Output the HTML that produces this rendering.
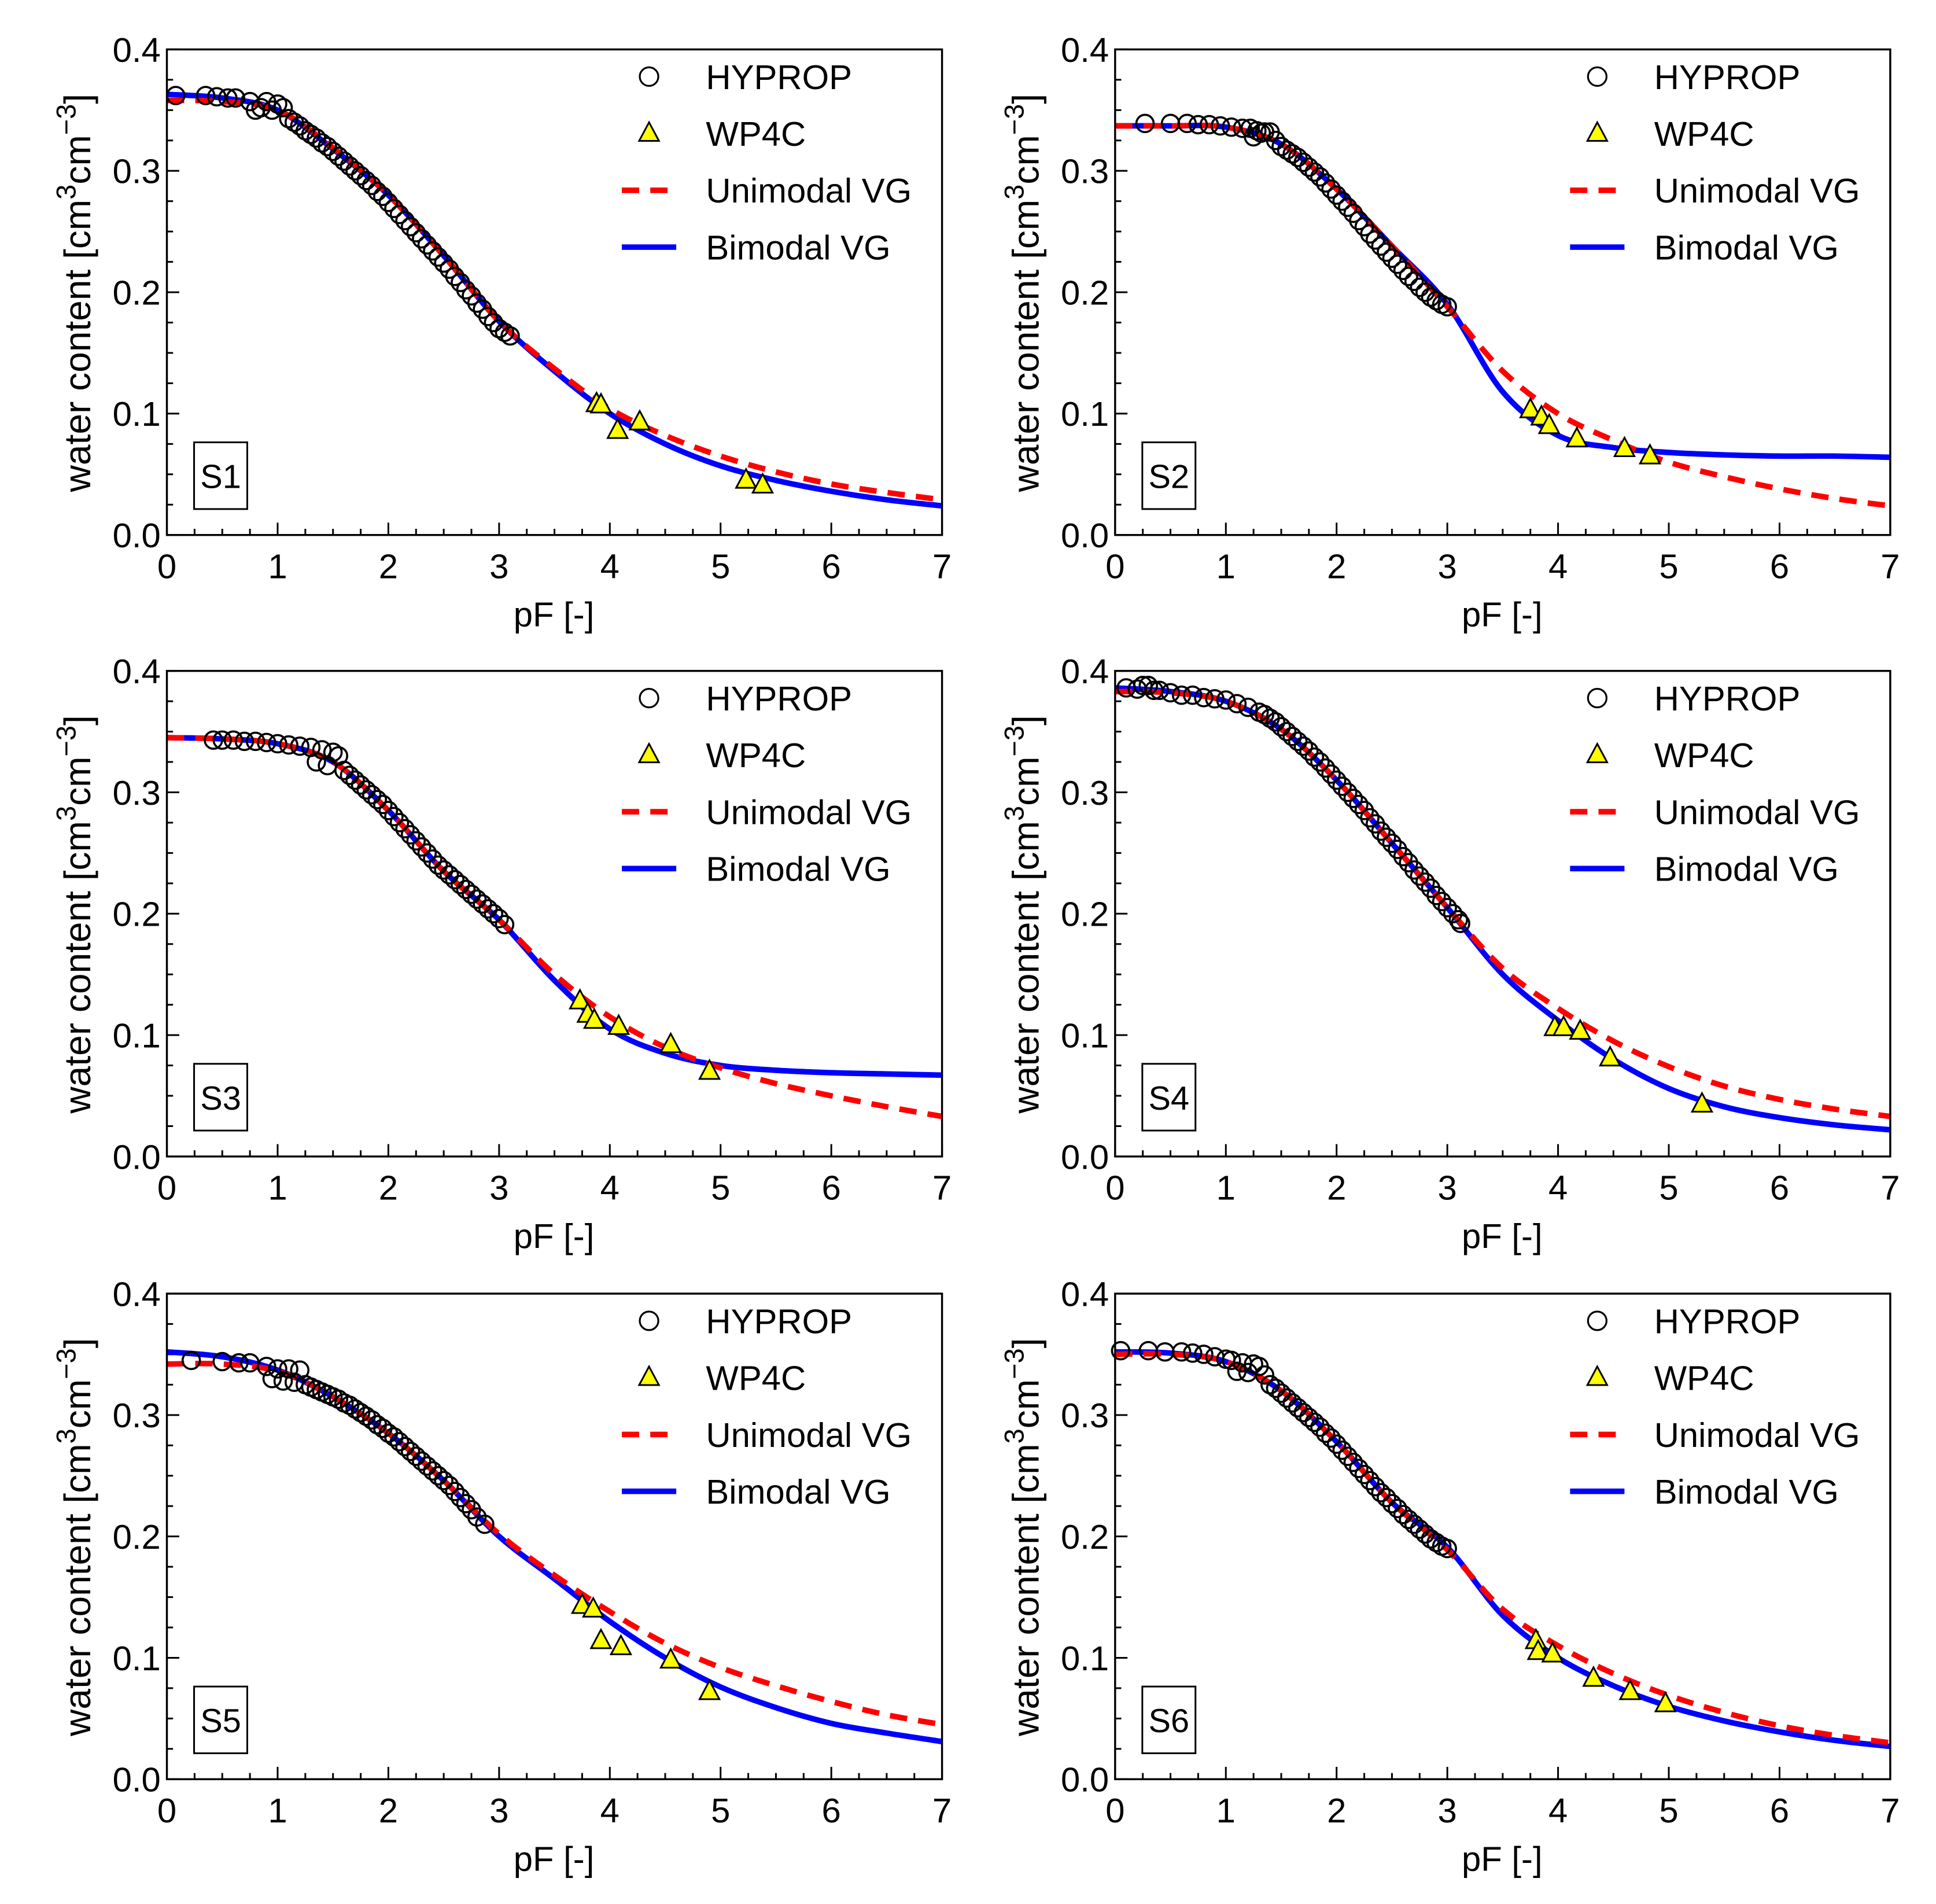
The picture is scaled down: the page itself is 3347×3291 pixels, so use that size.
<!DOCTYPE html>
<html><head><meta charset="utf-8"><style>
html,body{margin:0;padding:0;background:#fff}
svg{display:block}
text{font-family:"Liberation Sans",sans-serif;fill:#000}
</style></head><body>
<svg id="fig" width="3347" height="3291" viewBox="0 0 1566 1541" preserveAspectRatio="none" xmlns="http://www.w3.org/2000/svg"></svg>
<script>
const xTicks=[0,1,2,3,4,5,6,7];
const yTicks=[0.0,0.1,0.2,0.3,0.4];
const yTickLabels=["0.0","0.1","0.2","0.3","0.4"];
const curvePF=[0,0.5,1,1.5,2,2.5,3,3.5,4,4.5,5,5.5,6,6.5,7];
const panelNames=["S1","S2","S3","S4","S5","S6"];
const bimodal=[
[0.363,0.360,0.350,0.318,0.280,0.230,0.176,0.135,0.100,0.075,0.057,0.045,0.036,0.029,0.024],
[0.337,0.337,0.336,0.322,0.285,0.238,0.190,0.118,0.082,0.072,0.068,0.066,0.065,0.065,0.064],
[0.345,0.344,0.340,0.325,0.285,0.235,0.195,0.145,0.105,0.085,0.075,0.071,0.069,0.068,0.067],
[0.386,0.383,0.375,0.352,0.310,0.258,0.205,0.150,0.112,0.080,0.056,0.041,0.032,0.026,0.022],
[0.352,0.348,0.337,0.315,0.285,0.246,0.200,0.165,0.130,0.100,0.076,0.059,0.046,0.038,0.031],
[0.352,0.351,0.344,0.320,0.278,0.228,0.191,0.135,0.100,0.077,0.060,0.048,0.039,0.032,0.027]];
const unimodal=[
[0.358,0.357,0.350,0.319,0.280,0.230,0.176,0.137,0.104,0.082,0.065,0.052,0.042,0.035,0.029],
[0.337,0.337,0.336,0.322,0.285,0.238,0.188,0.135,0.100,0.078,0.060,0.048,0.038,0.030,0.024],
[0.345,0.344,0.340,0.325,0.285,0.235,0.195,0.150,0.115,0.090,0.073,0.060,0.050,0.041,0.033],
[0.383,0.382,0.375,0.352,0.310,0.258,0.205,0.155,0.122,0.095,0.074,0.058,0.047,0.039,0.033],
[0.342,0.342,0.336,0.315,0.285,0.246,0.202,0.168,0.138,0.112,0.092,0.077,0.064,0.053,0.045],
[0.350,0.350,0.344,0.320,0.278,0.228,0.189,0.140,0.110,0.087,0.069,0.055,0.044,0.036,0.030]];
const hypropPF=[
[0.08,0.35,0.45,0.55,0.62,0.75,0.8,0.85,0.9,0.95,1.0,1.05,1.1,1.15,1.2,1.25,1.3,1.35,1.4,1.45,1.5,1.55,1.6,1.65,1.7,1.75,1.8,1.85,1.9,1.95,2.0,2.05,2.1,2.15,2.2,2.25,2.3,2.35,2.4,2.45,2.5,2.55,2.6,2.65,2.7,2.75,2.8,2.85,2.9,2.95,3.0,3.05,3.1],
[0.27,0.5,0.65,0.75,0.85,0.95,1.05,1.15,1.22,1.25,1.28,1.32,1.35,1.4,1.45,1.5,1.55,1.6,1.65,1.7,1.75,1.8,1.85,1.9,1.95,2.0,2.05,2.1,2.15,2.2,2.25,2.3,2.35,2.4,2.45,2.5,2.55,2.6,2.65,2.7,2.75,2.8,2.85,2.9,2.95,3.0],
[0.42,0.5,0.6,0.7,0.8,0.9,1.0,1.1,1.2,1.3,1.35,1.4,1.45,1.5,1.55,1.6,1.65,1.7,1.75,1.8,1.85,1.9,1.95,2.0,2.05,2.1,2.15,2.2,2.25,2.3,2.35,2.4,2.45,2.5,2.55,2.6,2.65,2.7,2.75,2.8,2.85,2.9,2.95,3.0,3.05],
[0.1,0.2,0.25,0.3,0.35,0.4,0.5,0.6,0.7,0.8,0.9,1.0,1.1,1.2,1.3,1.35,1.4,1.45,1.5,1.55,1.6,1.65,1.7,1.75,1.8,1.85,1.9,1.95,2.0,2.05,2.1,2.15,2.2,2.25,2.3,2.35,2.4,2.45,2.5,2.55,2.6,2.65,2.7,2.75,2.8,2.85,2.9,2.95,3.0,3.05,3.1,3.12],
[0.22,0.5,0.65,0.75,0.9,0.95,1.0,1.05,1.1,1.15,1.2,1.25,1.3,1.35,1.4,1.45,1.5,1.55,1.6,1.65,1.7,1.75,1.8,1.85,1.9,1.95,2.0,2.05,2.1,2.15,2.2,2.25,2.3,2.35,2.4,2.45,2.5,2.55,2.6,2.65,2.7,2.75,2.8,2.87],
[0.05,0.3,0.45,0.6,0.7,0.8,0.9,1.0,1.05,1.1,1.15,1.2,1.25,1.3,1.35,1.4,1.45,1.5,1.55,1.6,1.65,1.7,1.75,1.8,1.85,1.9,1.95,2.0,2.05,2.1,2.15,2.2,2.25,2.3,2.35,2.4,2.45,2.5,2.55,2.6,2.65,2.7,2.75,2.8,2.85,2.9,2.95,3.0]];
const hypropTheta=[
[0.362,0.362,0.361,0.360,0.360,0.357,0.350,0.352,0.357,0.350,0.355,0.352,0.343,0.340,0.337,0.333,0.330,0.327,0.323,0.320,0.316,0.312,0.308,0.304,0.300,0.296,0.292,0.288,0.283,0.279,0.274,0.269,0.264,0.259,0.254,0.249,0.244,0.239,0.234,0.229,0.224,0.219,0.213,0.208,0.202,0.197,0.191,0.186,0.180,0.175,0.170,0.167,0.164],
[0.339,0.339,0.339,0.338,0.338,0.337,0.336,0.335,0.335,0.328,0.333,0.331,0.332,0.332,0.325,0.320,0.317,0.314,0.311,0.307,0.303,0.299,0.295,0.290,0.285,0.280,0.275,0.270,0.265,0.259,0.254,0.248,0.243,0.238,0.233,0.228,0.223,0.218,0.213,0.209,0.204,0.200,0.196,0.193,0.190,0.188],
[0.343,0.343,0.343,0.342,0.342,0.341,0.340,0.339,0.338,0.337,0.325,0.335,0.322,0.333,0.330,0.318,0.314,0.310,0.306,0.302,0.298,0.294,0.290,0.285,0.280,0.275,0.270,0.265,0.260,0.255,0.250,0.245,0.240,0.236,0.232,0.228,0.224,0.220,0.216,0.212,0.208,0.204,0.200,0.196,0.191],
[0.386,0.385,0.388,0.388,0.384,0.384,0.382,0.380,0.380,0.378,0.377,0.376,0.373,0.370,0.366,0.364,0.361,0.358,0.354,0.350,0.346,0.342,0.338,0.334,0.329,0.325,0.320,0.315,0.310,0.305,0.300,0.295,0.290,0.285,0.279,0.274,0.268,0.263,0.258,0.253,0.247,0.242,0.236,0.231,0.226,0.221,0.215,0.210,0.205,0.200,0.195,0.192],
[0.345,0.344,0.343,0.343,0.340,0.330,0.338,0.328,0.338,0.327,0.337,0.325,0.323,0.321,0.319,0.317,0.315,0.313,0.310,0.308,0.305,0.302,0.299,0.296,0.292,0.289,0.285,0.282,0.278,0.274,0.270,0.266,0.262,0.258,0.254,0.250,0.246,0.242,0.237,0.232,0.227,0.222,0.216,0.210],
[0.353,0.353,0.352,0.352,0.351,0.350,0.348,0.346,0.345,0.336,0.343,0.335,0.342,0.340,0.333,0.325,0.322,0.318,0.314,0.310,0.306,0.302,0.298,0.294,0.290,0.285,0.281,0.276,0.271,0.266,0.261,0.256,0.251,0.246,0.241,0.236,0.232,0.227,0.223,0.218,0.214,0.210,0.206,0.202,0.198,0.195,0.192,0.190]];
const wpPF=[
[3.88,3.92,4.07,4.27,5.23,5.38],
[3.75,3.85,3.92,4.17,4.6,4.83],
[3.73,3.8,3.86,4.08,4.55,4.9],
[3.97,4.05,4.2,4.47,5.3],
[3.75,3.85,3.92,4.1,4.55,4.9],
[3.8,3.82,3.95,4.32,4.65,4.97]];
const wpTheta=[
[0.108,0.107,0.086,0.093,0.045,0.041],
[0.103,0.097,0.090,0.079,0.071,0.065],
[0.128,0.117,0.112,0.107,0.092,0.070],
[0.106,0.106,0.103,0.081,0.043],
[0.143,0.140,0.114,0.109,0.098,0.072],
[0.114,0.105,0.103,0.083,0.072,0.062]];
const legendLabels=["HYPROP","WP4C","Unimodal VG","Bimodal VG"];

const NS="http://www.w3.org/2000/svg";
const svg=document.getElementById('fig');
function mk(tag,attrs,parent){const e=document.createElementNS(NS,tag);for(const k in attrs)e.setAttribute(k,attrs[k]);(parent||svg).appendChild(e);return e;}
const colX=[135,902], rowY=[40,543,1047], W=627, H=393;

function spline(pts){
  let d="M"+pts[0][0]+","+pts[0][1];
  for(let i=0;i<pts.length-1;i++){
    const p0=pts[Math.max(0,i-1)],p1=pts[i],p2=pts[i+1],p3=pts[Math.min(pts.length-1,i+2)];
    const c1=[p1[0]+(p2[0]-p0[0])/6,p1[1]+(p2[1]-p0[1])/6];
    const c2=[p2[0]-(p3[0]-p1[0])/6,p2[1]-(p3[1]-p1[1])/6];
    d+=" C"+c1[0]+","+c1[1]+" "+c2[0]+","+c2[1]+" "+p2[0]+","+p2[1];
  }
  return d;
}

for(let p=0;p<6;p++){
  const x0=colX[p%2], y0=rowY[Math.floor(p/2)];
  const sx=v=>x0+v/7*W, sy=v=>y0+H-v/0.4*H;
  const g=mk('g',{});
  
  
  for(let i=0;i<=28;i++){const v=i*0.25;const len=(i%4===0)?10:5;
    const t=mk('line',{x1:sx(v),x2:sx(v),y1:y0+H,y2:y0+H-len,stroke:'#000','stroke-width':1.4},g);
    }
  for(let i=0;i<=16;i++){const v=i*0.025;const len=(i%4===0)?10:5;
    const t=mk('line',{x1:x0,x2:x0+len,y1:sy(v),y2:sy(v),stroke:'#000','stroke-width':1.4},g);
    }
  xTicks.forEach(v=>{const t=mk('text',{x:sx(v),y:y0+H+35,'text-anchor':'middle','font-size':28},g);t.textContent=v;
    });
  yTicks.forEach((v,i)=>{const t=mk('text',{x:x0-5,y:sy(v)+10,'text-anchor':'end','font-size':28},g);t.textContent=yTickLabels[i];
    });
  const xt=mk('text',{x:x0+313,y:y0+H+74,'text-anchor':'middle','font-size':28},g);xt.textContent='pF [-]';
  
  const yt=mk('text',{x:0,y:0,'text-anchor':'middle','font-size':30,transform:`translate(${x0-62},${y0+197}) rotate(-90)`},g);
  yt.innerHTML='water content [cm<tspan dy="-12" font-size="22">3</tspan><tspan dy="12">cm</tspan><tspan dy="-12" font-size="22">−3</tspan><tspan dy="12">]</tspan>';
  
  const clip=mk('clipPath',{id:'c'+p},g);mk('rect',{x:x0,y:y0,width:W,height:H},clip);
  const bl=mk('path',{d:spline(curvePF.map((v,i)=>[sx(v),sy(bimodal[p][i])])),fill:'none',stroke:'#0000ff','stroke-width':4.5,'clip-path':`url(#c${p})`},g);
  
  const rd=mk('path',{d:spline(curvePF.map((v,i)=>[sx(v),sy(unimodal[p][i])])),fill:'none',stroke:'#ff0000','stroke-width':4.5,'stroke-dasharray':'14 9','clip-path':`url(#c${p})`},g);
  
  hypropPF[p].forEach((v,i)=>{const c=mk('circle',{cx:sx(v),cy:sy(hypropTheta[p][i]),r:7,fill:'none',stroke:'#000','stroke-width':1.7},g);
    });
  wpPF[p].forEach((v,i)=>{const cx=sx(v),cy=sy(wpTheta[p][i]);
    const t=mk('polygon',{points:`${cx},${cy-9} ${cx-8},${cy+6} ${cx+8},${cy+6}`,fill:'#ffff00',stroke:'#000','stroke-width':1.4},g);
    });
  const fr=mk('rect',{x:x0,y:y0,width:W,height:H,fill:'none',stroke:'#000','stroke-width':1.6},g);
  
  const lg=mk('g',{},g);
  const lx=x0+390, ly=y0+22;
  const e0=mk('circle',{cx:lx,cy:ly,r:7.5,fill:'none',stroke:'#000','stroke-width':1.5},lg);
  
  const e1=mk('polygon',{points:`${lx},${ly+37} ${lx-8},${ly+52} ${lx+8},${ly+52}`,fill:'#ffff00',stroke:'#000','stroke-width':1.4},lg);
  
  const e2=mk('line',{x1:lx-22,x2:lx+22,y1:ly+92,y2:ly+92,stroke:'#ff0000','stroke-width':4.5,'stroke-dasharray':'14 9'},lg);
  
  const e3=mk('line',{x1:lx-22,x2:lx+22,y1:ly+138,y2:ly+138,stroke:'#0000ff','stroke-width':4.5},lg);
  
  legendLabels.forEach((s,i)=>{const t=mk('text',{x:lx+46,y:ly+10+i*46,'font-size':28},lg);t.textContent=s;
    });
  const bx=mk('rect',{x:x0+22,y:y0+318,width:43,height:54,fill:'#fff',stroke:'#000','stroke-width':1.4},g);
  
  const st=mk('text',{x:x0+43.5,y:y0+355,'text-anchor':'middle','font-size':27},g);st.textContent=panelNames[p];
  
}
</script>
</body></html>
